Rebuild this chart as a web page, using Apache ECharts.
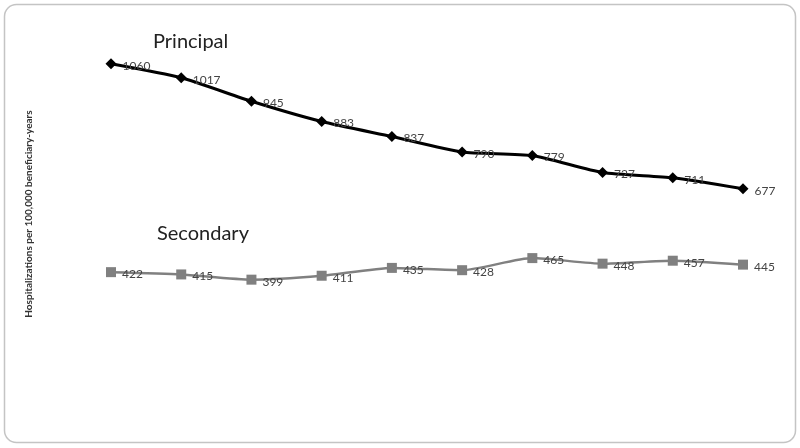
<!DOCTYPE html>
<html>
<head>
<meta charset="utf-8">
<script src="https://cdn.jsdelivr.net/npm/echarts@6/dist/echarts.min.js"></script>
<style>
html,body{margin:0;padding:0;background:#fff;}
#chart{width:800px;height:448px;}
</style>
</head>
<body>
<div id="chart"></div>
<script>
var categories = ['1','2','3','4','5','6','7','8','9','10'];
var principal = [1060, 1017, 945, 883, 837, 790, 779, 727, 711, 677];
var secondary = [422, 415, 399, 411, 435, 428, 465, 448, 457, 445];
var yTitle = 'Hospitalizations per 100,000 beneficiary-years';

var chart = echarts.init(document.getElementById('chart'));
chart.setOption({
  animation: false,
  backgroundColor: '#fff',
  textStyle: {fontFamily: 'Lato'},
  grid: {left: 111, right: 57, top: 18, bottom: 38},
  xAxis: {
    type: 'category', data: categories, boundaryGap: false,
    axisLine: {show: false}, axisTick: {show: false}, axisLabel: {show: false}, splitLine: {show: false}
  },
  yAxis: {
    type: 'value', min: 0, max: 1200,
    name: yTitle, nameLocation: 'middle', nameGap: 77,
    nameTextStyle: {fontSize: 10, fontWeight: 'bold', color: '#333', fontFamily: 'Lato'},
    axisLine: {show: false}, axisTick: {show: false}, axisLabel: {show: false}, splitLine: {show: false}
  },
  graphic: [
    {type: 'rect', shape: {x: 4.5, y: 4.5, width: 791, height: 438, r: 12},
     style: {fill: 'none', stroke: '#c4c4c4', lineWidth: 1.5}, z: -1},
    {type: 'text', left: 153, top: 32, style: {text: 'Principal', font: '20px Lato', fill: '#222'}},
    {type: 'text', left: 157, top: 224, style: {text: 'Secondary', font: '20px Lato', fill: '#222'}}
  ],
  series: [
    {
      name: 'Principal', type: 'line', data: principal, smooth: 0.2,
      symbol: 'diamond', symbolSize: 11,
      lineStyle: {color: '#000', width: 3},
      itemStyle: {color: '#000'},
      label: {show: true, position: 'right', distance: 6, fontSize: 12, color: '#444', fontFamily: 'Lato', offset: [0, 2]}
    },
    {
      name: 'Secondary', type: 'line', data: secondary, smooth: 0.2,
      symbol: 'rect', symbolSize: 10,
      lineStyle: {color: '#808080', width: 2.5},
      itemStyle: {color: '#808080'},
      label: {show: true, position: 'right', distance: 6, fontSize: 12, color: '#444', fontFamily: 'Lato', offset: [0, 2]}
    }
  ]
});
</script>
</body>
</html>
